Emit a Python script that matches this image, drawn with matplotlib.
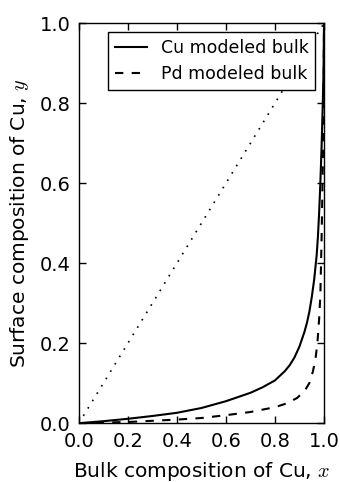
import matplotlib

matplotlib.use("Agg")
import matplotlib.pyplot as plt
from matplotlib.ticker import FormatStrFormatter

plt.rcParams["mathtext.fontset"] = "cm"
plt.rcParams["lines.scale_dashes"] = False

# bulk composition x vs surface composition y
cu_x = [0.0, 0.1, 0.2, 0.3, 0.4, 0.5, 0.6, 0.7, 0.75, 0.8, 0.84, 0.86, 0.88,
        0.9, 0.92, 0.93, 0.94, 0.95, 0.96, 0.97, 0.975, 0.98, 0.985, 0.99,
        0.995, 0.998, 1.0]
cu_y = [0.0, 0.005, 0.011, 0.018, 0.026, 0.038, 0.055, 0.076, 0.09, 0.107,
        0.13, 0.145, 0.165, 0.192, 0.228, 0.25, 0.278, 0.315, 0.36, 0.42,
        0.465, 0.525, 0.6, 0.69, 0.8, 0.88, 1.0]

pd_x = [0.0, 0.2, 0.4, 0.5, 0.6, 0.7, 0.8, 0.85, 0.89, 0.92, 0.94, 0.955,
        0.965, 0.973, 0.98, 0.985, 0.99, 0.995, 0.998, 1.0]
pd_y = [0.0, 0.003, 0.009, 0.013, 0.02, 0.028, 0.04, 0.05, 0.063, 0.08,
        0.1, 0.13, 0.16, 0.2, 0.26, 0.32, 0.46, 0.64, 0.8, 1.0]

diag = [0.0, 1.0]
ticks = [0.0, 0.2, 0.4, 0.6, 0.8, 1.0]

fig = plt.figure(figsize=(3.4, 4.82), dpi=100)
ax = fig.add_axes([0.232, 0.122, 0.721, 0.830])

ax.plot(cu_x, cu_y, color="k", ls="-", lw=1.5, label="Cu modeled bulk")
ax.plot(pd_x, pd_y, color="k", ls=(0, (6, 6)), lw=1.5, label="Pd modeled bulk")
ax.plot(diag, diag, color="k", ls=(0, (1.2, 5)), lw=1.2)

ax.set_xlim(0, 1)
ax.set_ylim(0, 1)
ax.set_xticks(ticks)
ax.set_yticks(ticks)
ax.xaxis.set_major_formatter(FormatStrFormatter("%.1f"))
ax.yaxis.set_major_formatter(FormatStrFormatter("%.1f"))
ax.tick_params(direction="in", top=True, right=True, length=5, width=1,
               labelsize=14, pad=6)
for s in ax.spines.values():
    s.set_linewidth(1.0)

ax.set_xlabel("Bulk composition of Cu, $x$", fontsize=14.5, labelpad=7)
ax.set_ylabel("Surface composition of Cu, $y$", fontsize=14.5, labelpad=6)

leg = ax.legend(loc="upper right", fontsize=12.5, fancybox=False, framealpha=1,
                edgecolor="black", handlelength=1.8, borderaxespad=0.5)
leg.get_frame().set_linewidth(1.0)

fig.savefig("out.png", dpi=100)
